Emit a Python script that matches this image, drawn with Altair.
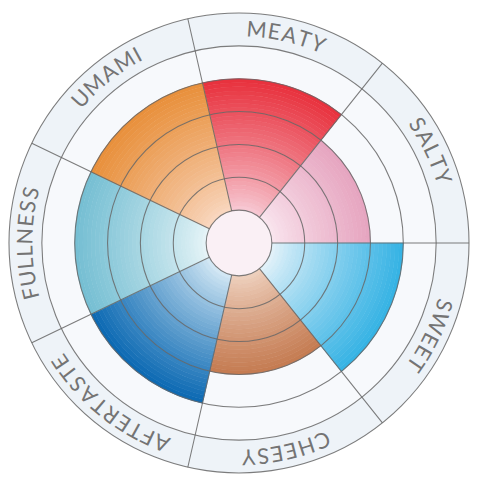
import math
import altair as alt
import pandas as pd

# ---- data ----
categories = ["MEATY", "SALTY", "SWEET", "CHEESY", "AFTERTASTE", "FULLNESS", "UMAMI"]
scores = [5, 4, 5, 4, 5, 5, 5]
outer_colors = ["#e8303c", "#e6a4bf", "#34b2e4", "#c47a50", "#0a68b2", "#74bed2", "#e88f3a"]
inner_colors = ["#f7ccd6", "#fae6ef", "#e6f3fa", "#efd2c0", "#d8ebf6", "#e8f5f8", "#f9d8c2"]
ring_levels = [1, 2, 3, 4, 5, 6, 7]

HOLE = 1
OUTER = 7
LABEL_R = 6.5
R_PX = 234
start_deg = -360 / 28
step = 360 / len(categories)
SUB = 8  # sub-bands per unit for the radial gradient

theta_scale = alt.Scale(domain=[0, 360], range=[0, 2 * math.pi])
radius_scale = alt.Scale(type="linear", domain=[0, OUTER], range=[0, R_PX], zero=True)


def hex2rgb(h):
    h = h.lstrip("#")
    return [int(h[i:i + 2], 16) for i in (0, 2, 4)]


def lerp(c0, c1, t):
    a, b = hex2rgb(c0), hex2rgb(c1)
    return "#" + "".join(f"{round(a[i] + (b[i] - a[i]) * t):02x}" for i in range(3))


# gradient bands
bands = []
for i, (cat, s) in enumerate(zip(categories, scores)):
    t0 = start_deg + i * step
    n = (s - HOLE) * SUB
    for k in range(n):
        r0 = HOLE + k / SUB
        bands.append({
            "cat": cat, "t0": t0, "t1": t0 + step,
            "r0": r0, "r1": r0 + 1 / SUB,
            "color": lerp(inner_colors[i], outer_colors[i], ((k + 0.5) / n) ** 0.85),
        })
bands_df = pd.DataFrame(bands)

# background discs
bg_df = pd.DataFrame([
    {"t0": 0, "t1": 360, "r0": 6, "r1": 7, "color": "#eef3f8"},
    {"t0": 0, "t1": 360, "r0": 0, "r1": 6, "color": "#f7f9fc"},
    {"t0": 0, "t1": 360, "r0": 0, "r1": 1, "color": "#faf0f5"},
])

rings_df = pd.DataFrame({"t0": 0, "t1": 360, "r": ring_levels})
spokes_df = pd.DataFrame({
    "t": [start_deg + i * step for i in range(len(categories))],
    "r0": HOLE, "r1": OUTER,
})

# letters placed along the label ring
char_w = {"A": .70, "C": .68, "E": .56, "F": .52, "H": .74, "I": .28, "L": .48,
          "M": .88, "N": .74, "R": .62, "S": .54, "T": .56, "U": .70, "W": 1.0, "Y": .62}
FONT = 22
TRACK = 2
r_lab_px = LABEL_R / OUTER * R_PX
letters = []
for i, cat in enumerate(categories):
    centre = start_deg + (i + 0.5) * step
    widths = [char_w.get(c, .6) * FONT for c in cat]
    total = sum(widths) + TRACK * (len(cat) - 1)
    pos = -total / 2
    for c, w in zip(cat, widths):
        mid = pos + w / 2
        th = centre + math.degrees(mid / r_lab_px)
        letters.append({"ch": c, "t": th, "r": LABEL_R, "rot": th % 360})
        pos += w + TRACK
letters_df = pd.DataFrame(letters)


def arc_enc(base):
    return base.encode(
        theta=alt.Theta("t0:Q", scale=theta_scale, stack=None),
        theta2="t1:Q",
        radius=alt.Radius("r0:Q", scale=radius_scale),
        radius2="r1:Q",
    )


bg = arc_enc(alt.Chart(bg_df).mark_arc(strokeWidth=0)).encode(
    color=alt.Color("color:N", scale=None))

band_layer = arc_enc(alt.Chart(bands_df).mark_arc(strokeWidth=0.6)).encode(
    color=alt.Color("color:N", scale=None),
    stroke=alt.Stroke("color:N", scale=None),
)

rings = alt.Chart(rings_df).mark_arc(
    fillOpacity=0, stroke="#666666", strokeWidth=1.1, strokeOpacity=0.85
).encode(
    theta=alt.Theta("t0:Q", scale=theta_scale, stack=None),
    theta2="t1:Q",
    radius=alt.Radius("r:Q", scale=radius_scale),
    radius2="r:Q",
)

spokes = alt.Chart(spokes_df).mark_arc(
    fillOpacity=0, stroke="#666666", strokeWidth=1.1, strokeOpacity=0.85
).encode(
    theta=alt.Theta("t:Q", scale=theta_scale, stack=None),
    theta2="t:Q",
    radius=alt.Radius("r0:Q", scale=radius_scale),
    radius2="r1:Q",
)

labels = alt.Chart(letters_df).mark_text(
    font="Lato", fontSize=FONT, fontWeight=400, color="#747474",
    align="center", baseline="middle",
).encode(
    theta=alt.Theta("t:Q", scale=theta_scale, stack=None),
    radius=alt.Radius("r:Q", scale=radius_scale),
    angle=alt.Angle("rot:Q", scale=None),
    text="ch:N",
)

chart = alt.layer(bg, band_layer, rings, spokes, labels).properties(
    width=470, height=470, padding=0,
    autosize=alt.AutoSizeParams(type="none"),
    background="#ffffff",
).configure_view(stroke=None)

chart.save("out.html", embed_options={"renderer": "svg", "actions": False})
